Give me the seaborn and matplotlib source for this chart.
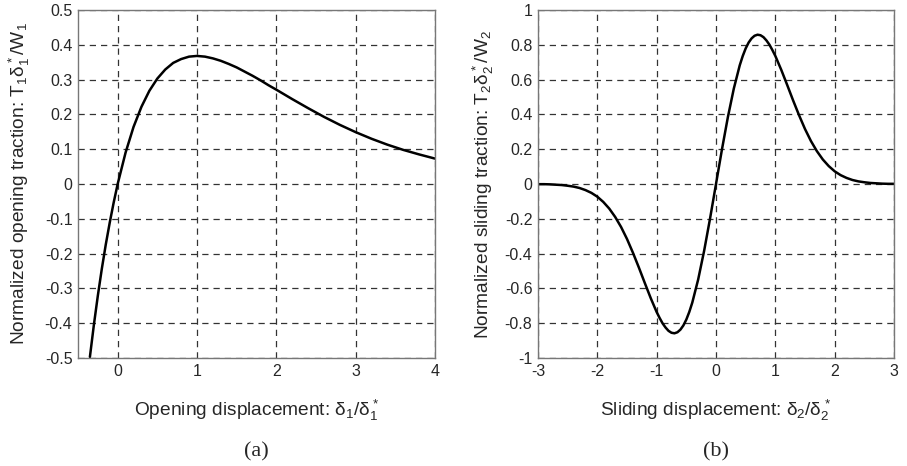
import matplotlib
matplotlib.use("Agg")
import matplotlib.pyplot as plt
import seaborn as sns
import pandas as pd

# Panel (a): opening displacement vs normalized opening traction
open_x = [-0.35, -0.3, -0.25, -0.2, -0.15, -0.1, -0.05, 0.0, 0.1, 0.2, 0.3, 0.4, 0.5, 0.6, 0.7,
          0.8, 0.9, 1.0, 1.1, 1.2, 1.3, 1.4, 1.5, 1.6, 1.7, 1.8, 1.9, 2.0, 2.2, 2.4,
          2.6, 2.8, 3.0, 3.2, 3.4, 3.6, 3.8, 4.0]
open_y = [-0.497, -0.405, -0.321, -0.244, -0.174, -0.111, -0.053, 0.0, 0.0905, 0.164, 0.222, 0.268,
          0.303, 0.329, 0.348, 0.359, 0.366, 0.368, 0.366, 0.361, 0.354, 0.345, 0.335,
          0.323, 0.311, 0.298, 0.284, 0.271, 0.244, 0.218, 0.193, 0.170, 0.149, 0.130,
          0.113, 0.098, 0.085, 0.073]

# Panel (b): sliding displacement vs normalized sliding traction (positive half, mirrored)
slide_x_pos = [0.0, 0.1, 0.2, 0.3, 0.4, 0.45, 0.5, 0.55, 0.6, 0.65, 0.7, 0.75, 0.8, 0.85,
               0.9, 0.95, 1.0, 1.1, 1.2, 1.3, 1.4, 1.5, 1.6, 1.7, 1.8, 1.9, 2.0, 2.1, 2.2,
               2.3, 2.4, 2.5, 2.6, 2.7, 2.8, 2.9, 3.0]
slide_y_pos = [0.0, 0.198, 0.384, 0.548, 0.682, 0.735, 0.779, 0.813, 0.837, 0.852, 0.858,
               0.855, 0.844, 0.825, 0.801, 0.770, 0.736, 0.656, 0.569, 0.480, 0.395, 0.316,
               0.247, 0.189, 0.141, 0.103, 0.073, 0.051, 0.035, 0.023, 0.015, 0.010, 0.006,
               0.004, 0.002, 0.001, 0.001]
slide_x = [-v for v in slide_x_pos[::-1]] + slide_x_pos[1:]
slide_y = [-v for v in slide_y_pos[::-1]] + slide_y_pos[1:]

open_xticks = [0, 1, 2, 3, 4]
open_yticks = [0.5, 0.4, 0.3, 0.2, 0.1, 0.0, -0.1, -0.2, -0.3, -0.4, -0.5]
open_yticklabels = ["0.5", "0.4", "0.3", "0.2", "0.1", "0", "-0.1", "-0.2", "-0.3", "-0.4", "-0.5"]
slide_xticks = [-3, -2, -1, 0, 1, 2, 3]
slide_xticklabels = ["-3", "-2", "-1", "0", "1", "2", "3"]
slide_yticks = [1.0, 0.8, 0.6, 0.4, 0.2, 0.0, -0.2, -0.4, -0.6, -0.8, -1.0]
slide_yticklabels = ["1", "0.8", "0.6", "0.4", "0.2", "0", "-0.2", "-0.4", "-0.6", "-0.8", "-1"]

sns.set_style("white")
plt.rcParams['font.family'] = ['Liberation Sans', 'DejaVu Sans']
plt.rcParams['mathtext.fontset'] = 'custom'
plt.rcParams['mathtext.rm'] = 'Liberation Sans'
plt.rcParams['mathtext.it'] = 'Liberation Sans'
plt.rcParams['mathtext.bf'] = 'Liberation Sans'
plt.rcParams['axes.unicode_minus'] = False

fig = plt.figure(figsize=(9.07, 4.66), dpi=100)
W, H = 907, 466
ax1 = fig.add_axes([78 / W, 1 - 358 / H, (435 - 78) / W, (358 - 10) / H])
ax2 = fig.add_axes([538 / W, 1 - 358 / H, (894 - 538) / W, (358 - 10) / H])

df1 = pd.DataFrame({"x": open_x, "y": open_y})
df2 = pd.DataFrame({"x": slide_x, "y": slide_y})
sns.lineplot(data=df1, x="x", y="y", ax=ax1, color="black", linewidth=1.8, sort=False)
sns.lineplot(data=df2, x="x", y="y", ax=ax2, color="black", linewidth=1.8, sort=False)

tick_fs = 11.5
for ax in (ax1, ax2):
    ax.grid(True, color="#333333", linestyle=(0, (5, 4)), linewidth=0.9)
    ax.set_axisbelow(True)
    for sp in ax.spines.values():
        sp.set_color("#777777")
        sp.set_linewidth(1.0)
    ax.tick_params(axis="both", direction="in", length=3, color="#777777",
                   labelsize=tick_fs, pad=4)

ax1.set_xlim(-0.5, 4)
ax1.set_ylim(-0.5, 0.5)
ax1.set_xticks(open_xticks)
ax1.set_xticklabels([str(t) for t in open_xticks])
ax1.set_yticks(open_yticks)
ax1.set_yticklabels(open_yticklabels)
ax1.set_xlabel(r"Opening displacement: $\delta_1$/$\delta_1^*$", fontsize=13.8, labelpad=14)
ax1.set_ylabel(r"Normalized opening traction: T$_1$$\delta_1^*$/W$_1$", fontsize=13.8, labelpad=9)

ax2.set_xlim(-3, 3)
ax2.set_ylim(-1, 1)
ax2.set_xticks(slide_xticks)
ax2.set_xticklabels(slide_xticklabels)
ax2.set_yticks(slide_yticks)
ax2.set_yticklabels(slide_yticklabels)
ax2.set_xlabel(r"Sliding displacement: $\delta_2$/$\delta_2^*$", fontsize=13.8, labelpad=14)
ax2.set_ylabel(r"Normalized sliding traction: T$_2$$\delta_2^*$/W$_2$", fontsize=13.8, labelpad=6)

fig.text((78 + 435) / 2 / W, 1 - 452 / H, "(a)", ha="center", va="center",
         fontsize=16, family=["Liberation Serif", "DejaVu Serif"])
fig.text((538 + 894) / 2 / W, 1 - 452 / H, "(b)", ha="center", va="center",
         fontsize=16, family=["Liberation Serif", "DejaVu Serif"])

fig.savefig("out.png", dpi=100)
